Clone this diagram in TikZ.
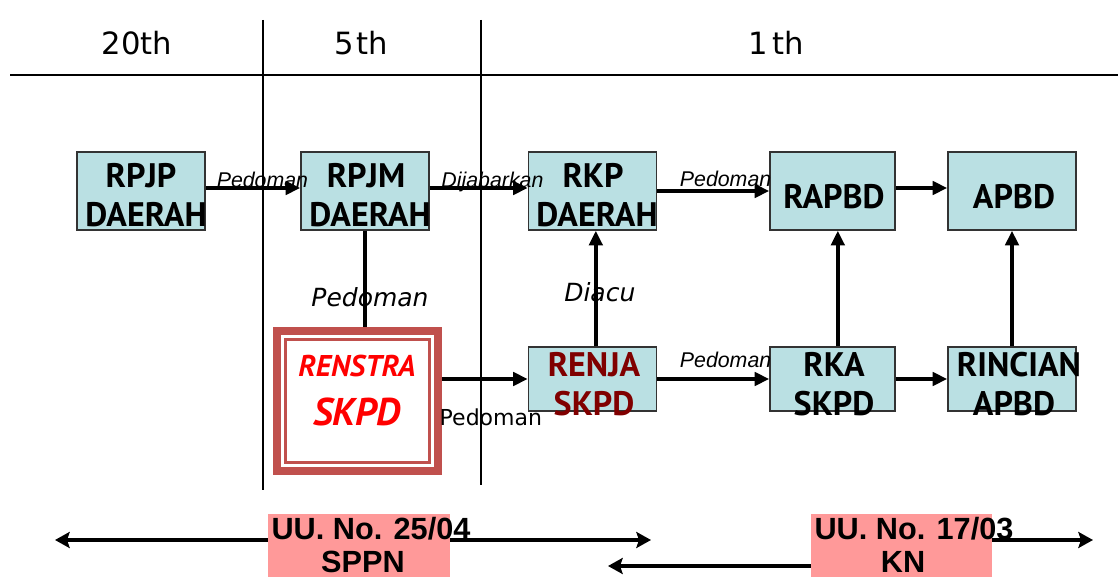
\documentclass[tikz,border=0pt]{standalone}
\usepackage{fontspec}
\setmainfont{DejaVu Sans}
\newfontfamily\ptsans{PT Sans}
\newfontfamily\libsans{Liberation Sans}
\usetikzlibrary{arrows.meta,calc}
\definecolor{boxfill}{HTML}{BAE0E3}
\definecolor{boxline}{HTML}{333333}
\definecolor{renred}{HTML}{C0504D}
\definecolor{lawpink}{HTML}{FF9999}
\definecolor{renjared}{HTML}{800000}
\begin{document}
\begin{tikzpicture}[x=0.75pt,y=-0.75pt,
  blk/.style={draw=boxline, line width=1.1pt, fill=boxfill, inner sep=0pt, minimum width=96pt, minimum height=58.5pt},
  blkb/.style={blk, minimum height=48pt},
  btxt/.style={font=\ptsans\bfseries\fontsize{25.5}{29}\selectfont, inner sep=0pt, anchor=base},
  hdr/.style={font=\fontsize{23}{26}\selectfont, inner sep=0pt, anchor=base},
  arr/.style={line width=2.7pt, -{Triangle[length=11pt,width=10pt]}},
  barr/.style={line width=2.9pt, -{Stealth[length=11pt,width=12pt,inset=2pt]}},
  plainline/.style={line width=2.7pt},
  sml/.style={font=\libsans\itshape\fontsize{16}{18}\selectfont, inner sep=0pt, anchor=base},
  bigit/.style={font=\itshape\fontsize{18.75}{22}\selectfont, inner sep=0pt},
  uu/.style={font=\libsans\bfseries\fontsize{23}{26}\selectfont, inner sep=0pt, anchor=base},
  ruleline/.style={line width=1.3pt},
  vline/.style={line width=0.9pt}
]
\useasboundingbox (0,0) rectangle (1118,577);

% header
\draw[ruleline] (10,75) -- (1118,75);
\draw[vline] (263,20) -- (263,490);
\draw[vline] (481,20) -- (481,485);
\node[hdr] (h20) at (137,55) {20th};
\node[hdr] (h5) at (361,55) {5\kern2pt th};
\node[hdr] (h1) at (776,55) {1\kern3pt th};

% boxes
\node[blk] (rpjp) at (141,191) {};
\node[blk] (rpjm) at (365,191) {};
\node[blk] (rkp) at (592.5,191) {};
\node[blk, minimum width=93.75pt] (rapbd) at (832.5,191) {};
\node[blk] (apbd) at (1012,191) {};
\node[blkb] (renja) at (592.5,379) {};
\node[blkb, minimum width=93.75pt] (rka) at (832.5,379) {};
\node[blkb] (rincian) at (1012,379) {};

\node[btxt] (rpjpA) at (141,188) {RPJP};
\node[btxt] (rpjpB) at (146,227) {DAERAH};
\node[btxt] (rpjmA) at (366,188) {RPJM};
\node[btxt] (rpjmB) at (370,227) {DAERAH};
\node[btxt] (rkpA) at (593,188) {RKP};
\node[btxt] (rkpB) at (597,227) {DAERAH};
\node[btxt] (rapbdT) at (834,209) {RAPBD};
\node[btxt] (apbdT) at (1014,209) {APBD};
\node[btxt, text=renjared] (renjaA) at (594,377) {RENJA};
\node[btxt, text=renjared] (renjaB) at (594,416) {SKPD};
\node[btxt] (rkaA) at (834,377) {RKA};
\node[btxt] (rkaB) at (834,416) {SKPD};
\node[btxt] (rincianA) at (1019,377) {RINCIAN};
\node[btxt] (rincianB) at (1014,416) {APBD};

% renstra
\node[draw=renred, line width=6pt, fill=white, minimum width=120.75pt, minimum height=105pt, inner sep=0pt] (renstra) at (357.5,401) {};
\draw[renred, line width=2.25pt] ($(renstra.north west)+(12.5,12.5)$) rectangle ($(renstra.south east)+(-12.5,-12.5)$);
\node[font=\ptsans\bfseries\itshape\fontsize{22.5}{26}\selectfont, text=red, inner sep=0pt, anchor=base] (renT1) at (357,377) {RENSTRA};
\node[font=\ptsans\bfseries\itshape\fontsize{29}{32}\selectfont, text=red, inner sep=0pt, anchor=base] (renT2) at (357,426) {SKPD};

% connectors
\draw[arr] ([yshift=2.25pt]rpjp.east) -- ([yshift=2.25pt]rpjm.west) node[sml, pos=.6] (l1) {Pedoman};
\draw[arr] ([yshift=2.25pt]rpjm.east) -- ([yshift=2.25pt]rkp.west) node[sml, pos=.64] (l2) {Dijabarkan};
\draw[arr] (rkp.east) -- (rapbd.west) node[sml, pos=.61, yshift=3pt] (l3) {Pedoman};
\draw[arr] ([yshift=2.25pt]rapbd.east) -- ([yshift=2.25pt]apbd.west);
\draw[plainline] (rpjm.south) -- (rpjm.south |- renstra.north) node[bigit, pos=.69, xshift=3.75pt] (l4) {Pedoman};
\draw[arr] (renstra.east |- renja.west) -- (renja.west) node[inner sep=0pt, anchor=base, font=\fontsize{16.5}{20}\selectfont, pos=.57, yshift=-35pt] (l5) {Pedoman};
\draw[arr] ([xshift=2.5pt]renja.north) -- ([xshift=2.5pt]rkp.south) node[bigit, pos=.47, xshift=3pt] (l6) {Diacu};
\draw[arr] (renja.east) -- (rka.west) node[sml, pos=.61, yshift=8.25pt] (l7) {Pedoman};
\draw[arr] ([xshift=4pt]rka.north) -- ([xshift=4pt]rapbd.south);
\draw[arr] (rka.east) -- (rincian.west);
\draw[arr] (rincian.north) -- (apbd.south);

% laws
\node[fill=lawpink, minimum width=136.5pt, minimum height=52.5pt, inner sep=0pt] (sppn) at (359,549) {};
\node[fill=lawpink, minimum width=135.75pt, minimum height=52.5pt, inner sep=0pt] (kn) at (901.5,549) {};
\coordinate (L1) at (55,540);
\coordinate (R1) at (651,540);
\coordinate (L2) at (608,566);
\coordinate (R2) at (1093,540);
\draw[barr] (sppn.west |- L1) -- (L1);
\draw[barr] (sppn.east |- R1) -- (R1);
\draw[barr] (kn.west |- L2) -- (L2);
\draw[barr] (kn.east |- R2) -- (R2);
\node[uu] (sppnT1) at (371,539) {UU. No. 25/04};
\node[uu] (sppnT2) at (363,572) {SPPN};
\node[uu] (knT1) at (914,539) {UU. No. 17/03};
\node[uu] (knT2) at (903,572) {KN};
\end{tikzpicture}
\end{document}
